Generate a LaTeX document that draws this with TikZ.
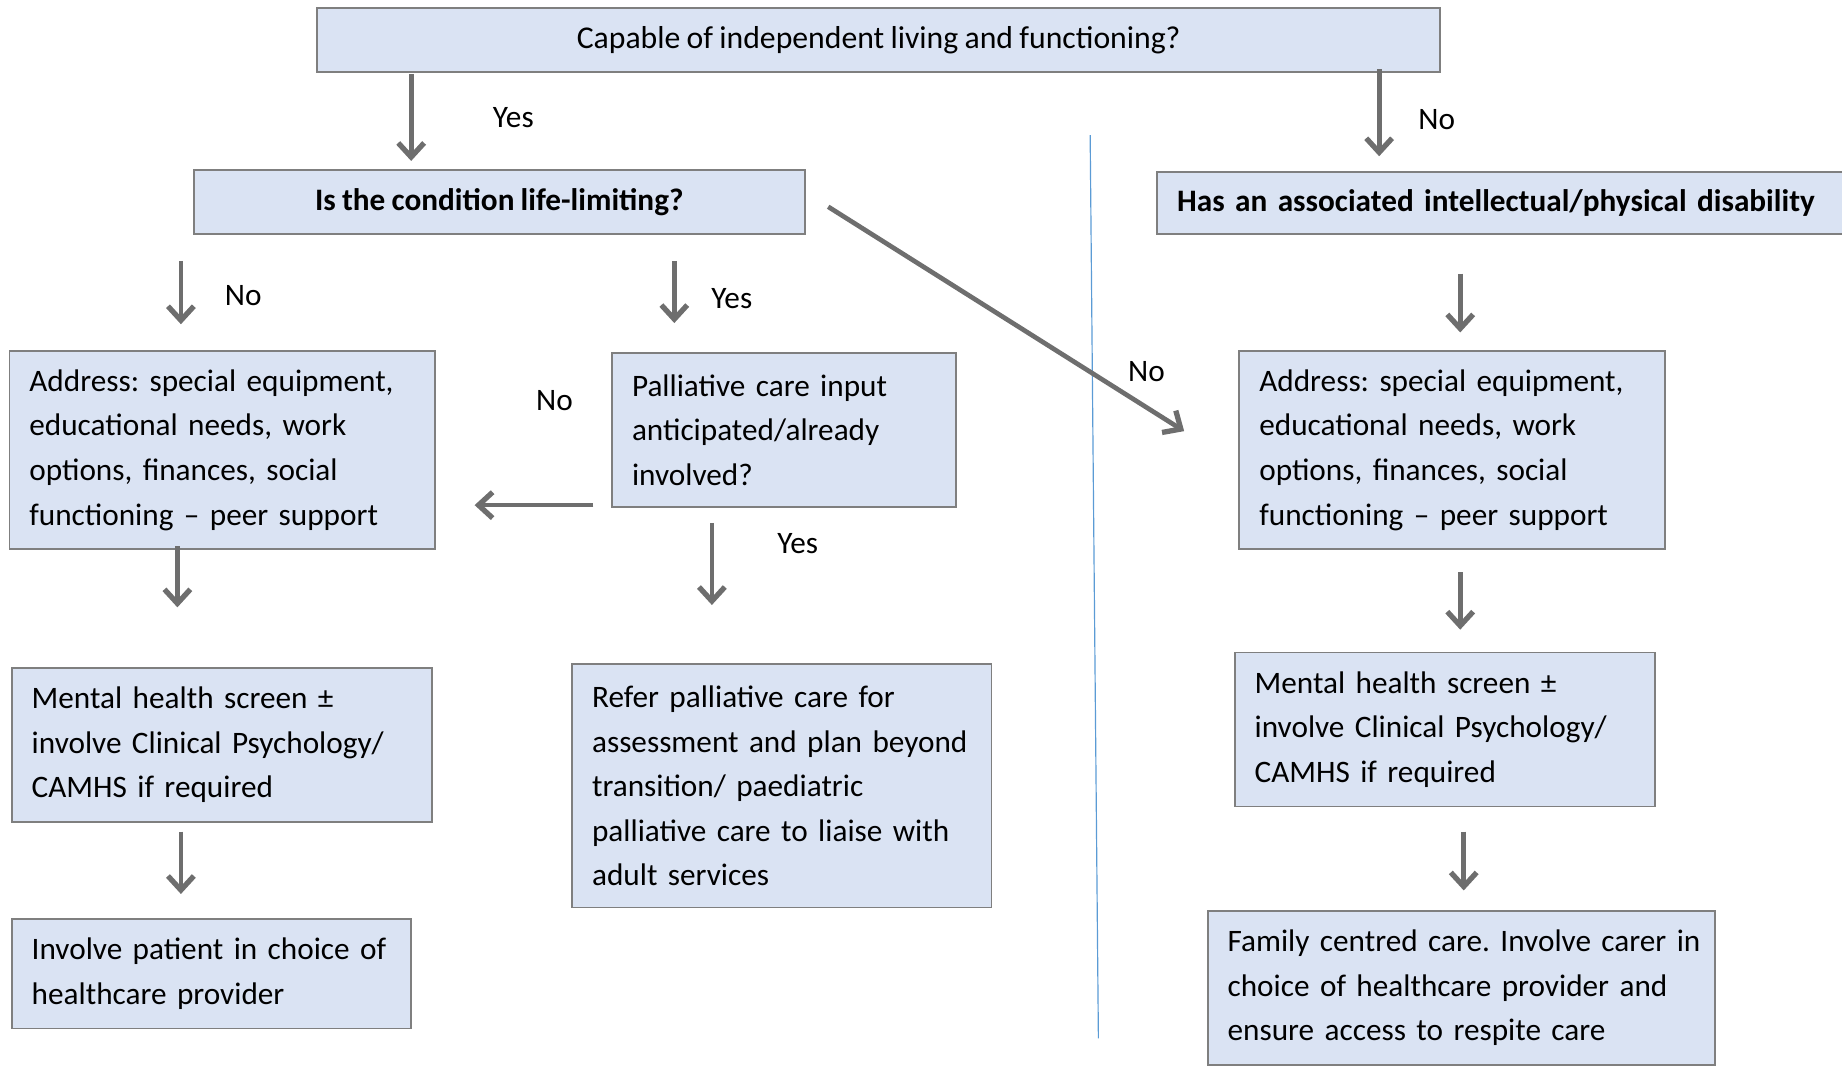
\documentclass[tikz,border=0pt]{standalone}
\usepackage{fontspec}
\setmainfont[WordSpace=0.88]{Carlito}
\usetikzlibrary{arrows.meta}
\definecolor{boxfill}{HTML}{DAE3F3}
\definecolor{boxline}{HTML}{7F7F7F}
\definecolor{arr}{HTML}{6E6E6E}
\definecolor{divline}{HTML}{5B9BD5}
\newcommand\tl[1]{\mbox{#1}}
\frenchspacing
\begin{document}
\begin{tikzpicture}[x=1pt,y=-1pt,
  txt/.style={font=\fontsize{26.6}{38}\selectfont},
  box/.style={txt,draw=boxline,line width=1.5pt,fill=boxfill,inner xsep=17pt,inner ysep=0pt,align=left,anchor=center},
  cbox/.style={txt,draw=boxline,line width=1.5pt,fill=boxfill,inner xsep=17pt,inner ysep=0pt,align=center,anchor=center},
  flow/.style={draw=arr,line width=4pt,-{Straight Barb[length=12pt,width=22pt,line width=4.5pt]}},
  lbl/.style={txt,inner sep=0pt,anchor=center}]
\useasboundingbox (0,0) rectangle (1568,907);
\draw[divline,line width=1pt] (928,115) coordinate (d1) -- (935,884) coordinate (d2);
% boxes
\node[cbox,minimum width=956pt,minimum height=54pt,font=\fontsize{27}{38}\selectfont] (top) at (748,34) {Capable of independent living and functioning?};
\node[cbox,minimum width=520pt,minimum height=54pt,font=\fontsize{26.6}{38}\selectfont\bfseries] (life) at (425,172) {Is the condition life-limiting?};
\node[box,minimum width=587pt,minimum height=53pt,text width=553pt,font=\fontsize{26.6}{38}\selectfont\bfseries] (dis) at (1278.5,173) {Has an associated intellectual/physical disability};
\node[box,minimum width=362pt,minimum height=169pt,text width=328pt] (addrL) at (189,383) {\tl{Address: special equipment,}\\\tl{educational needs, work}\\\tl{options, finances, social}\\\tl{functioning -- peer support}};
\node[box,minimum width=293pt,minimum height=131pt,text width=259pt] (pall) at (667.5,366) {\tl{Palliative care input}\\\tl{anticipated/already}\\\tl{involved?}};
\node[box,minimum width=362pt,minimum height=169pt,text width=328pt] (addrR) at (1236,383) {\tl{Address: special equipment,}\\\tl{educational needs, work}\\\tl{options, finances, social}\\\tl{functioning -- peer support}};
\node[box,minimum width=358pt,minimum height=131pt,text width=324pt] (mentL) at (189,634) {\tl{Mental health screen ±}\\\tl{involve Clinical Psychology/}\\\tl{CAMHS if required}};
\node[box,minimum width=357pt,minimum height=207pt,text width=323pt] (refer) at (665.5,669) {\tl{Refer palliative care for}\\\tl{assessment and plan beyond}\\\tl{transition/ paediatric}\\\tl{palliative care to liaise with}\\\tl{adult services}};
\node[box,minimum width=358pt,minimum height=131pt,text width=324pt] (mentR) at (1230,621) {\tl{Mental health screen ±}\\\tl{involve Clinical Psychology/}\\\tl{CAMHS if required}};
\node[box,minimum width=340pt,minimum height=93pt,text width=306pt] (invL) at (180,829) {\tl{Involve patient in choice of}\\\tl{healthcare provider}};
\node[box,minimum width=432pt,minimum height=131pt,text width=398pt] (fam) at (1244,841) {\tl{Family centred care. Involve carer in}\\\tl{choice of healthcare provider and}\\\tl{ensure access to respite care}};
% labels
\node[lbl] (l1) at (437,100) {Yes};
\node[lbl] (l2) at (1223,102) {No};
\node[lbl] (l3) at (207,252) {No};
\node[lbl] (l4) at (623,254) {Yes};
\node[lbl] (l5) at (976,316) {No};
\node[lbl] (l7) at (472,341) {No};
\node[lbl] (l9) at (679,463) {Yes};
% arrow end points
\coordinate (a1s) at (350,63);   \coordinate (a1e) at (350,137);
\coordinate (a2s) at (1174,59);  \coordinate (a2e) at (1174,133);
\coordinate (a3s) at (154,222);  \coordinate (a3e) at (154,276);
\coordinate (a4s) at (574,222);  \coordinate (a4e) at (574,275);
\coordinate (a5s) at (705,176);  \coordinate (a5e) at (1008,367);
\coordinate (a6s) at (1243,233); \coordinate (a6e) at (1243,283);
\coordinate (a7s) at (505,430);  \coordinate (a7e) at (404,430);
\coordinate (a8s) at (151,465);  \coordinate (a8e) at (151,517);
\coordinate (a9s) at (606,445);  \coordinate (a9e) at (606,515);
\coordinate (a10s) at (1243,487); \coordinate (a10e) at (1243,536);
\coordinate (a11s) at (154,708); \coordinate (a11e) at (154,761);
\coordinate (a12s) at (1246,708); \coordinate (a12e) at (1246,758);
\foreach \i in {1,...,12} {\draw[flow] (a\i s) -- (a\i e);}
\end{tikzpicture}
\end{document}
